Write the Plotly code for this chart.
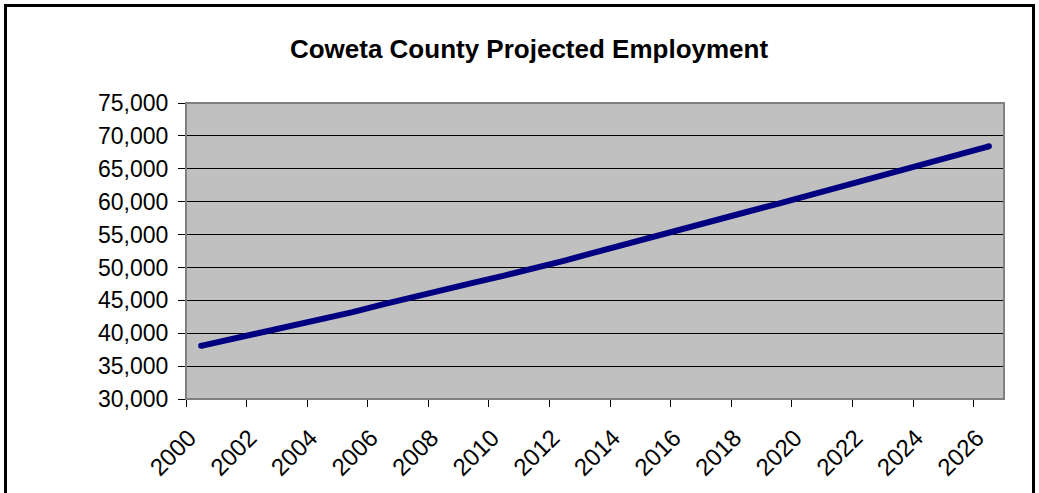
import plotly.graph_objects as go

years = list(range(2000, 2027))
employment = [38080, 39080, 40090, 41100, 42110, 43200, 44400, 45550, 46620, 47690,
              48750, 49810, 51050, 52300, 53570, 54830, 56030, 57230, 58430, 59630,
              60870, 62150, 63430, 64710, 65950, 67190, 68420]
label_years = years[::2]
tick_bounds = [y - 0.5 for y in years[::2]]
y_ticks = list(range(30000, 75001, 5000))

FONT = "Liberation Sans, Arial, sans-serif"
L, R, T, B = 186, 35, 103, 94
W, H = 1039, 493
pw, ph = W - L - R, H - T - B

fig = go.Figure()
fig.add_trace(go.Scatter(x=years, y=employment, mode="lines",
                         line=dict(color="#000080", width=6), hoverinfo="skip",
                         showlegend=False))
fig.add_trace(go.Scatter(x=[years[0], years[-1]], y=[employment[0], employment[-1]],
                         mode="markers", marker=dict(color="#000080", size=6),
                         hoverinfo="skip", showlegend=False))
fig.add_trace(go.Scatter(x=years, y=employment, xaxis="x2", mode="lines",
                         line=dict(width=0), opacity=0, hoverinfo="skip",
                         showlegend=False))

fig.update_layout(
    width=W, height=H,
    margin=dict(l=L, r=R, t=T, b=B, pad=0),
    paper_bgcolor="white",
    plot_bgcolor="#C0C0C0",
    font=dict(family=FONT, size=22, color="black"),
    title=dict(text="<b>Coweta County Projected Employment</b>",
               font=dict(family=FONT, size=26, color="black"),
               x=529 / W, xanchor="center", xref="container",
               y=1 - 49 / H, yanchor="middle", yref="container"),
    xaxis=dict(range=[1999.5, 2026.5], tickmode="array", tickvals=label_years,
               ticktext=[str(v) for v in label_years], tickangle=-45,
               ticks="", showgrid=False, zeroline=False, showline=False,
               ticklabelstandoff=19, ticklabelshift=-12,
               tickfont=dict(size=24)),
    xaxis2=dict(range=[1999.5, 2026.5], overlaying="x", side="bottom",
                tickmode="array", tickvals=tick_bounds, showticklabels=False,
                ticks="outside", ticklen=7, tickwidth=1, tickcolor="black",
                showgrid=False, zeroline=False, showline=False),
    yaxis=dict(range=[30000, 75000], tickmode="array", tickvals=y_ticks,
               tickformat=",", ticks="outside", ticklen=7, tickwidth=1,
               tickcolor="black", showgrid=True, gridcolor="black", gridwidth=1,
               zeroline=False, showline=False, ticklabelstandoff=5,
               tickfont=dict(size=23)),
    shapes=[
        dict(type="rect", xref="paper", yref="paper", x0=0, x1=1, y0=0, y1=1,
             line=dict(color="#808080", width=2), layer="above"),
        dict(type="rect", xref="paper", yref="paper",
             x0=(5.5 - L) / pw, x1=(1033.5 - L) / pw,
             y0=(H - B - 510) / ph, y1=(H - B - 5.5) / ph,
             line=dict(color="black", width=3), layer="above"),
    ],
)

fig.write_html("out.html")
